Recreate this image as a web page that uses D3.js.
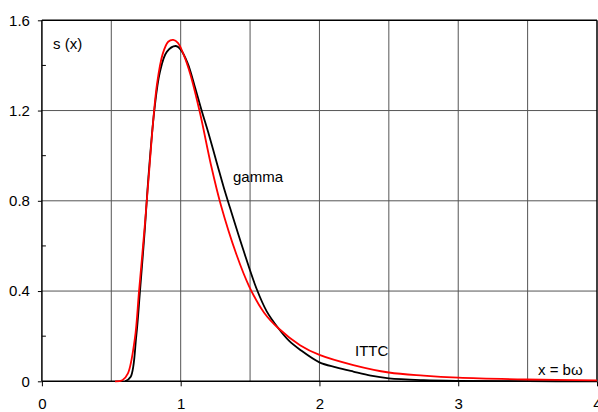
<!DOCTYPE html>
<html lang="en">
<head>
	<meta charset="UTF-8">
	<title>s(x) gamma vs ITTC</title>
	<script src="https://d3js.org/d3.v7.min.js"></script>
	<style>
		* {
			margin: 0px;
			padding: 0px;
		}
		body { background: #fff; }
		text { font-family: "Liberation Sans", Arial, sans-serif; font-size: 15px; fill: #000; }
	</style>
</head>
<body>
	<svg width="598" height="412"></svg>
	<script>
		// values
		var gammaX = [0.60, 0.64, 0.68, 0.707, 0.74, 0.767, 0.81, 0.85, 0.90, 0.964, 1.0, 1.05, 1.10, 1.151, 1.20, 1.264, 1.31, 1.355, 1.45, 1.547, 1.62, 1.704, 1.78, 1.86, 2.0, 2.12, 2.244, 2.37, 2.5, 2.75, 3.0, 3.5, 4.0];
		var gammaY = [0, 0.02, 0.2, 0.4, 0.66, 0.9, 1.2, 1.37, 1.46, 1.486, 1.47, 1.41, 1.31, 1.2, 1.10, 0.96, 0.86, 0.77, 0.585, 0.41, 0.31, 0.235, 0.18, 0.14, 0.084, 0.062, 0.043, 0.025, 0.013, 0.005, 0.002, 0.0005, 0];
		var ittcX = [0.527, 0.58, 0.62, 0.67, 0.70, 0.74, 0.774, 0.80, 0.83, 0.87, 0.91, 0.947, 0.98, 1.02, 1.07, 1.139, 1.218, 1.29, 1.40, 1.494, 1.60, 1.704, 1.86, 2.0, 2.244, 2.5, 2.75, 3.0, 3.5, 4.0];
		var ittcY = [0, 0.005, 0.035, 0.19, 0.4, 0.68, 0.94, 1.14, 1.32, 1.45, 1.505, 1.513, 1.50, 1.45, 1.36, 1.19, 0.96, 0.78, 0.565, 0.42, 0.305, 0.235, 0.16, 0.117, 0.072, 0.039, 0.025, 0.016, 0.008, 0.004];
		var xTicks = [0, 1, 2, 3, 4];
		var yTicks = [0, 0.4, 0.8, 1.2, 1.6];
		var yMinor = [0.2, 0.6, 1.0, 1.4];
		var xGrid = [0.5, 1, 1.5, 2, 2.5, 3, 3.5];
		var yGrid = [0.4, 0.8, 1.2];

		var svg = d3.select("svg");
		var pl = 41.9, pr = 597, pt = 20.3, pb = 381.3;

		var x = d3.scaleLinear().domain([0, 4]).range([pl, pr]);
		var y = d3.scaleLinear().domain([0, 1.6]).range([pb, pt]);

		// grid
		svg.append("g")
			.selectAll("line")
			.data(xGrid)
			.enter()
			.append("line")
			.attr("x1", function (d) { return x(d); })
			.attr("x2", function (d) { return x(d); })
			.attr("y1", pt)
			.attr("y2", pb)
			.attr("stroke", "#555")
			.attr("stroke-width", 1);

		svg.append("g")
			.selectAll("line")
			.data(yGrid)
			.enter()
			.append("line")
			.attr("x1", pl)
			.attr("x2", pr)
			.attr("y1", function (d) { return y(d); })
			.attr("y2", function (d) { return y(d); })
			.attr("stroke", "#555")
			.attr("stroke-width", 1);

		// frame top/right
		svg.append("line")
			.attr("x1", pl).attr("x2", pr)
			.attr("y1", y(1.6)).attr("y2", y(1.6))
			.attr("stroke", "#000").attr("stroke-width", 1.5);
		svg.append("line")
			.attr("x1", x(4)).attr("x2", x(4))
			.attr("y1", pt).attr("y2", pb)
			.attr("stroke", "#000").attr("stroke-width", 1.5);

		// axes
		var xAxis = d3.axisBottom(x).tickValues(xTicks).tickFormat(d3.format("d")).tickSize(5).tickPadding(12);
		var yAxis = d3.axisLeft(y).tickValues(yTicks).tickFormat(function (d) { return d === 0 ? "0" : d3.format(".1f")(d); }).tickSize(4).tickPadding(8);

		var gx = svg.append("g").attr("transform", "translate(0," + pb + ")").call(xAxis);
		var gy = svg.append("g").attr("transform", "translate(" + pl + ",0)").call(yAxis);

		[gx, gy].forEach(function (g) {
			g.select(".domain").attr("stroke", "#000").attr("stroke-width", 1.5);
			g.selectAll(".tick line").attr("stroke", "#000").attr("stroke-width", 1);
			g.selectAll("text").attr("font-family", "Liberation Sans, Arial, sans-serif").attr("font-size", 15).attr("fill", "#000");
		});
		gx.select(".domain").attr("d", "M" + pl + ",0H" + pr);
		gy.select(".domain").attr("d", "M0," + pt + "V" + pb);

		// minor ticks inside
		svg.append("g")
			.selectAll("line")
			.data(yMinor)
			.enter()
			.append("line")
			.attr("x1", pl)
			.attr("x2", pl + 4)
			.attr("y1", function (d) { return y(d); })
			.attr("y2", function (d) { return y(d); })
			.attr("stroke", "#000");

		// curves
		var line = d3.line()
			.x(function (d) { return x(d[0]); })
			.y(function (d) { return y(d[1]); })
			.curve(d3.curveCatmullRom.alpha(0.5));

		var gamma = d3.zip(gammaX, gammaY);
		var ittc = d3.zip(ittcX, ittcY);

		svg.append("path")
			.datum(gamma)
			.attr("d", line)
			.attr("fill", "none")
			.attr("stroke", "#000")
			.attr("stroke-width", 1.8);

		svg.append("path")
			.datum(ittc)
			.attr("d", line)
			.attr("fill", "none")
			.attr("stroke", "#f00")
			.attr("stroke-width", 1.8);

		// labels
		svg.append("text").attr("x", 53).attr("y", 49).text("s (x)");
		svg.append("text").attr("x", 233).attr("y", 182).text("gamma");
		svg.append("text").attr("x", 355).attr("y", 356).text("ITTC");
		svg.append("text").attr("x", 538).attr("y", 375).text("x = b\u03c9");
	</script>
</body>
</html>
